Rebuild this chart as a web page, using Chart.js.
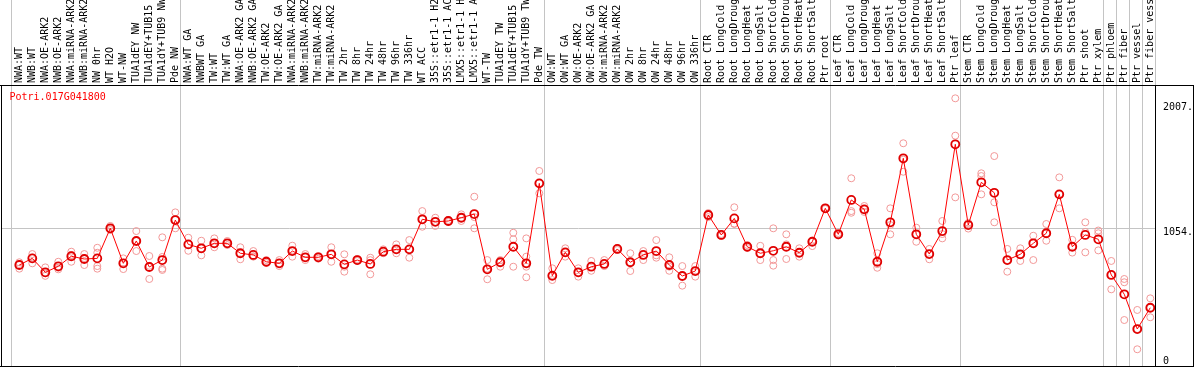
<!DOCTYPE html>
<html>
<head>
<meta charset="utf-8">
<script src="https://cdn.jsdelivr.net/npm/chart.js@4.4.1/dist/chart.umd.min.js"></script>
<style>
html, body { margin: 0; padding: 0; background: #fff; }
#wrap { width: 1194px; height: 370px; position: relative; }
</style>
</head>
<body>
<div id="wrap"><canvas id="chart" width="1194" height="370"></canvas></div>
<script>
var geneName = "Potri.017G041800";

var categories = [
    "NWA:WT", "NWB:WT", "NWA:OE-ARK2", "NWB:OE-ARK2", "NWA:miRNA-ARK2", "NWB:miRNA-ARK2", "NW 0hr",
    "WT H2O", "WT-NW", "TUA1dEY NW", "TUA1dEY+TUB15 NW", "TUA1dY+TUB9 NW", "Pde NW",
    "NWA:WT GA", "NWBWT GA", "TW:WT", "TW:WT GA", "NWA:OE-ARK2 GA", "NWB:OE-ARK2 GA", "TW:OE-ARK2",
    "TW:OE-ARK2 GA", "NWA:miRNA-ARK2", "NWB:miRNA-ARK2", "TW:miRNA-ARK2", "TW:miRNA-ARK2",
    "TW 2hr", "TW 8hr", "TW 24hr", "TW 48hr", "TW 96hr", "TW 336hr", "WT ACC",
    "35S::etr1-1 H2O", "35S::etr1-1 ACC", "LMX5::etr1-1 H2O", "LMX5::etr1-1 ACC",
    "WT-TW", "TUA1dEY TW", "TUA1dEY+TUB15 TW", "TUA1dY+TUB9 TW", "Pde TW",
    "OW:WT", "OW:WT GA", "OW:OE-ARK2", "OW:OE-ARK2 GA", "OW:miRNA-ARK2", "OW:miRNA-ARK2",
    "OW 2hr", "OW 8hr", "OW 24hr", "OW 48hr", "OW 96hr", "OW 336hr",
    "Root CTR", "Root LongCold", "Root LongDrought", "Root LongHeat", "Root LongSalt",
    "Root ShortCold", "Root ShortDrought", "Root ShortHeat", "Root ShortSalt", "Ptr root",
    "Leaf CTR", "Leaf LongCold", "Leaf LongDrought", "Leaf LongHeat", "Leaf LongSalt",
    "Leaf ShortCold", "Leaf ShortDrought", "Leaf ShortHeat", "Leaf ShortSalt", "Ptr leaf",
    "Stem CTR", "Stem LongCold", "Stem LongDrought", "Stem LongHeat", "Stem LongSalt",
    "Stem ShortCold", "Stem ShortDrought", "Stem ShortHeat", "Stem ShortSalt", "Ptr shoot", "Ptr xylem",
    "Ptr phloem", "Ptr fiber", "Ptr vessel", "Ptr fiber vessel"
];

// number of samples in each separated block
var groupSizes = [13, 28, 12, 10, 10, 11, 1, 1, 1, 1];

var meanValues = [
    773, 824, 717, 763, 840, 819, 824, 1054, 786, 957, 758, 811, 1117,
    931, 901, 939, 939, 863, 850, 798, 786, 880, 832, 832, 855, 778, 811, 781, 875,
    893, 893, 1123, 1104, 1110, 1135, 1163, 740, 794, 913, 786, 1398,
    691, 870, 717, 760, 781, 896, 794, 850, 880, 773, 689, 727,
    1156, 1003, 1130, 913, 863, 882, 913, 867, 951, 1207,
    1008, 1271, 1199, 798, 1100, 1590, 1008, 857, 1033, 1697,
    1079, 1406, 1326, 811, 855, 939, 1016, 1314, 913, 1003, 970,
    697, 549, 283, 446
];

var replicateValues = [
    [794, 780, 745], [857, 830, 786], [755, 710, 690], [798, 752, 740], [875, 850, 798],
    [857, 826, 773], [905, 867, 765, 745], [1072, 1050, 1041], [824, 790, 742], [1033, 957, 880],
    [842, 767, 666], [985, 835, 745, 735], [1176, 1120, 1054],
    [982, 931, 882], [959, 900, 847], [977, 939, 909], [957, 939, 926], [909, 863, 817],
    [880, 840, 837], [811, 798, 788], [811, 786, 765], [921, 880, 837], [857, 832, 811],
    [842, 832, 821], [909, 855, 798], [855, 760, 722], [819, 811, 804], [829, 810, 702],
    [893, 875, 863], [931, 893, 863], [964, 893, 829], [1186, 1123, 1066], [1135, 1104, 1072],
    [1118, 1110, 1102], [1161, 1135, 1110], [1296, 1140, 1054], [811, 745, 664], [811, 794, 760],
    [1020, 970, 760], [977, 837, 786, 760, 679], [1493, 1398, 1322],
    [748, 691, 658], [901, 870, 837], [748, 717, 684], [804, 760, 729], [811, 781, 765],
    [903, 896, 888], [863, 794, 727], [880, 850, 811], [964, 847, 829], [832, 773, 760, 729],
    [765, 689, 615], [765, 727, 684],
    [1171, 1156, 1140], [1010, 1003, 995], [1215, 1090, 1087], [926, 913, 903], [920, 863, 811],
    [1054, 811, 768], [1008, 931, 819], [901, 867, 837], [960, 951, 918], [1212, 1207, 1202],
    [1018, 1008, 999], [1437, 1186, 1173], [1225, 1199, 1179], [863, 780, 752], [1207, 1079, 1008],
    [1705, 1580, 1487], [1059, 1008, 951], [896, 857, 817], [1110, 1010, 977], [2049, 1763, 1291],
    [1095, 1085, 1052], [1475, 1454, 1314], [1607, 1253, 1100], [896, 811, 722], [901, 855, 804],
    [997, 939, 811], [1087, 1016, 959], [1444, 1314, 1207], [966, 913, 868], [1100, 1026, 870],
    [1037, 1016, 885],
    [804, 697, 587], [666, 641, 352], [429, 283, 128], [518, 446, 373]
];

var yTickValues = [0, 1054, 2007];
var yTickLabels = ["0", "1054.", "2007."];

var monoFont = "'DejaVu Sans Mono', 'Liberation Mono', monospace";
var gridColor = "#c4c4c4";

// points for the two datasets
var meanPoints = meanValues.map(function (v, i) { return { x: i, y: v }; });
var repPoints = [];
replicateValues.forEach(function (reps, i) {
    reps.forEach(function (v) { repPoints.push({ x: i, y: v }); });
});

// separator lines sit just left of the first sample of each block
var boundaries = [];
var edge = 0;
boundaries.push(edge - 0.62);
groupSizes.forEach(function (n) {
    edge += n;
    boundaries.push(edge - 0.62);
});

var xMin = -1.408, xMax = 87.44;

// extends the separators through the header and draws the black frame
var framePlugin = {
    id: "frame",
    afterDraw: function (chart) {
        var ctx = chart.ctx;
        var area = chart.chartArea;
        var xs = chart.scales.x;
        ctx.save();
        ctx.lineWidth = 1;
        ctx.strokeStyle = gridColor;
        boundaries.forEach(function (b, i) {
            var px = Math.round(xs.getPixelForValue(b)) + 0.5;
            ctx.beginPath();
            ctx.moveTo(px, 0);
            ctx.lineTo(px, i == boundaries.length - 1 ? area.bottom : area.top);
            ctx.stroke();
        });
        ctx.strokeStyle = "#000";
        ctx.beginPath();
        ctx.moveTo(0, area.top + 0.5); ctx.lineTo(chart.width, area.top + 0.5);
        ctx.moveTo(0, area.bottom + 0.5); ctx.lineTo(chart.width, area.bottom + 0.5);
        ctx.moveTo(area.left + 0.5, area.top); ctx.lineTo(area.left + 0.5, area.bottom);
        ctx.moveTo(area.right - 0.5, area.top); ctx.lineTo(area.right - 0.5, area.bottom);
        ctx.moveTo(chart.width - 0.5, area.top); ctx.lineTo(chart.width - 0.5, area.bottom);
        ctx.stroke();

        ctx.fillStyle = "#ff0000";
        ctx.font = "10px " + monoFont;
        ctx.textBaseline = "middle";
        ctx.textAlign = "left";
        ctx.fillText(geneName, area.left + 8.5, area.top + 12);
        ctx.restore();
    }
};

var ctx = document.getElementById("chart").getContext("2d");
var chart = new Chart(ctx, {
    type: "line",
    data: {
        datasets: [{
            label: "mean",
            data: meanPoints,
            borderColor: "#ff0000",
            borderWidth: 1,
            pointRadius: 4,
            pointBorderWidth: 1.8,
            pointBorderColor: "#e00000",
            pointBackgroundColor: "rgba(0,0,0,0)",
            tension: 0,
            xAxisID: "x",
            yAxisID: "y"
        }, {
            label: "replicates",
            type: "scatter",
            data: repPoints,
            showLine: false,
            pointRadius: 3.5,
            borderWidth: 1,
            borderColor: "#f29898",
            backgroundColor: "rgba(0,0,0,0)",
            xAxisID: "x",
            yAxisID: "y"
        }]
    },
    options: {
        responsive: false,
        animation: false,
        events: [],
        layout: { autoPadding: false, padding: { left: 1, right: 0, top: 0, bottom: 4 } },
        plugins: {
            legend: { display: false },
            title: { display: false },
            tooltip: { enabled: false }
        },
        scales: {
            x: {
                type: "linear",
                position: "bottom",
                min: xMin,
                max: xMax,
                border: { display: false },
                grid: { color: gridColor, drawTicks: false },
                ticks: { display: false },
                afterBuildTicks: function (scale) {
                    scale.ticks = boundaries.map(function (b) { return { value: b }; });
                }
            },
            xTop: {
                type: "linear",
                position: "top",
                min: xMin,
                max: xMax,
                border: { display: false },
                grid: { display: false, drawTicks: false },
                ticks: {
                    autoSkip: false,
                    minRotation: 90,
                    maxRotation: 90,
                    padding: 2,
                    labelOffset: 12,
                    color: "#000",
                    font: { family: monoFont, size: 10 },
                    callback: function (value) { return categories[value]; }
                },
                afterBuildTicks: function (scale) {
                    scale.ticks = categories.map(function (c, i) { return { value: i }; });
                },
                afterFit: function (scale) {
                    scale.height = 85;
                    scale.paddingLeft = 0;
                    scale.paddingRight = 0;
                }
            },
            y: {
                type: "linear",
                position: "right",
                min: 0,
                max: 2151,
                border: { display: false },
                grid: {
                    drawTicks: false,
                    color: function (c) {
                        return c.tick && c.tick.value === 1054 ? gridColor : "rgba(0,0,0,0)";
                    }
                },
                ticks: {
                    padding: 7,
                    labelOffset: 4,
                    color: "#000",
                    // the zero label gets an empty second line so it stays inside the frame
                    font: function (c) {
                        return { family: monoFont, size: 10, lineHeight: c.tick && c.tick.value === 0 ? 1.66 : 1.2 };
                    },
                    callback: function (value) {
                        var k = yTickValues.indexOf(value);
                        if (value === 0) return [yTickLabels[k], ""];
                        return yTickLabels[k];
                    }
                },
                afterBuildTicks: function (scale) {
                    scale.ticks = yTickValues.map(function (v) { return { value: v }; });
                },
                afterFit: function (scale) {
                    scale.width = 38;
                    scale.paddingTop = 0;
                    scale.paddingBottom = 0;
                }
            }
        }
    },
    plugins: [framePlugin]
});
</script>
</body>
</html>
